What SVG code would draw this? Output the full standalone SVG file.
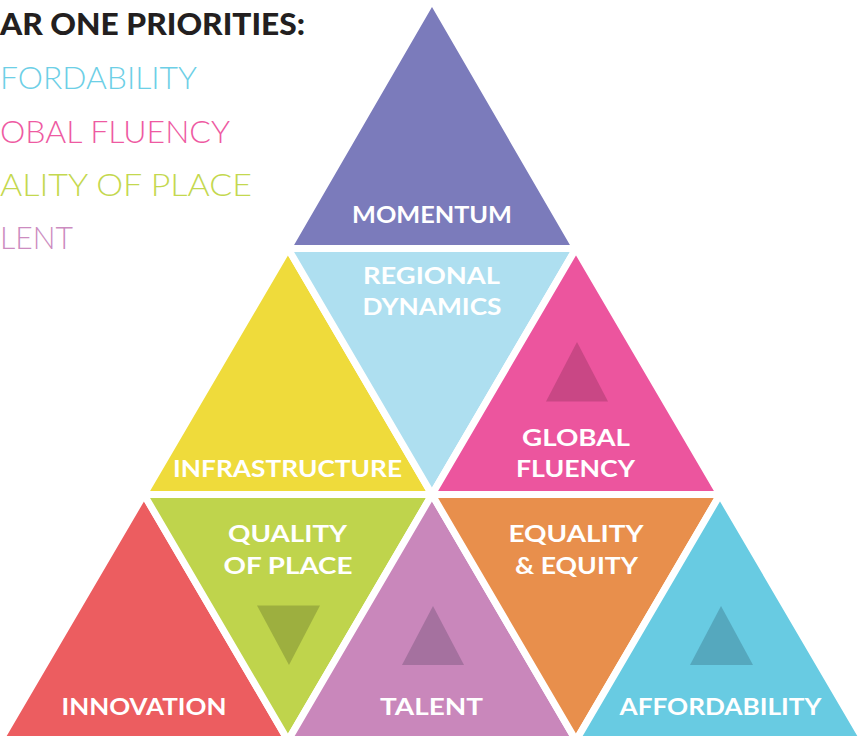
<svg xmlns="http://www.w3.org/2000/svg" width="859" height="736" viewBox="0 0 859 736">
<style>
.tri{stroke:#ffffff;stroke-width:7;stroke-linejoin:miter}
.lbl{font-family:Lato,"Open Sans","Liberation Sans",sans-serif;font-weight:700;font-size:23px;fill:#ffffff;text-anchor:middle}
.pri{font-family:Lato,"Open Sans","Liberation Sans",sans-serif;font-weight:300;font-size:31px}
.head{font-family:Lato,"Open Sans","Liberation Sans",sans-serif;font-weight:900;font-size:30px;fill:#231f20}
</style>
<rect width="859" height="736" fill="#ffffff"/>
<g id="priorities">
<text class="head" x="0" y="35" textLength="305" lengthAdjust="spacingAndGlyphs">AR ONE PRIORITIES:</text>
<text class="pri" x="0" y="89" fill="#6dcfe6" textLength="197" lengthAdjust="spacingAndGlyphs">FORDABILITY</text>
<text class="pri" x="0" y="143" fill="#ee5aa2" textLength="230" lengthAdjust="spacingAndGlyphs">OBAL FLUENCY</text>
<text class="pri" x="0" y="196" fill="#c4d84f" textLength="252" lengthAdjust="spacingAndGlyphs">ALITY OF PLACE</text>
<text class="pri" x="0" y="249" fill="#cc8cc0" textLength="73" lengthAdjust="spacingAndGlyphs">LENT</text>
</g>
<g id="connectors"></g>
<g id="momentum">
<polygon class="tri" fill="#7b7bbb" points="432,0 288,248.5 576,248.5"/>
<text class="lbl" x="432" y="223" textLength="160" lengthAdjust="spacingAndGlyphs">MOMENTUM</text>
</g>
<g id="infrastructure">
<polygon class="tri" fill="#efdb3b" points="288,248.5 144,494.5 432,494.5"/>
<text class="lbl" x="287.5" y="477" textLength="229" lengthAdjust="spacingAndGlyphs">INFRASTRUCTURE</text>
</g>
<g id="regional-dynamics">
<polygon class="tri" fill="#aedff0" points="288,248.5 576,248.5 432,494.5"/>
<text class="lbl" x="431.5" y="284" textLength="137" lengthAdjust="spacingAndGlyphs">REGIONAL</text>
<text class="lbl" x="432" y="315" textLength="139" lengthAdjust="spacingAndGlyphs">DYNAMICS</text>
</g>
<g id="global-fluency">
<polygon class="tri" fill="#ec559e" points="576,248.5 432,494.5 720,494.5"/>
<polygon fill="#c94785" points="577,342 546,401.5 608,401.5"/>
<text class="lbl" x="576" y="446" textLength="108" lengthAdjust="spacingAndGlyphs">GLOBAL</text>
<text class="lbl" x="575.5" y="477" textLength="119" lengthAdjust="spacingAndGlyphs">FLUENCY</text>
</g>
<g id="innovation">
<polygon class="tri" fill="#ec5d60" points="144,494.5 0,740.5 288,740.5"/>
<text class="lbl" x="144" y="715" textLength="165" lengthAdjust="spacingAndGlyphs">INNOVATION</text>
</g>
<g id="quality-of-place">
<polygon class="tri" fill="#bfd44c" points="144,494.5 432,494.5 288,740.5"/>
<polygon fill="#9daf3f" points="257,605.5 320,605.5 289,665"/>
<text class="lbl" x="287.5" y="542" textLength="119" lengthAdjust="spacingAndGlyphs">QUALITY</text>
<text class="lbl" x="288" y="574" textLength="129" lengthAdjust="spacingAndGlyphs">OF PLACE</text>
</g>
<g id="talent">
<polygon class="tri" fill="#c987bb" points="432,494.5 288,740.5 576,740.5"/>
<polygon fill="#a5719f" points="433,606 402,665 464,665"/>
<text class="lbl" x="431.5" y="715" textLength="103" lengthAdjust="spacingAndGlyphs">TALENT</text>
</g>
<g id="equality-equity">
<polygon class="tri" fill="#e88f4c" points="432,494.5 720,494.5 576,740.5"/>
<text class="lbl" x="576" y="542" textLength="135" lengthAdjust="spacingAndGlyphs">EQUALITY</text>
<text class="lbl" x="576.5" y="574" textLength="123" lengthAdjust="spacingAndGlyphs">&amp; EQUITY</text>
</g>
<g id="affordability">
<polygon class="tri" fill="#68cbe2" points="720,494.5 576,740.5 864,740.5"/>
<polygon fill="#55a8be" points="721,606 690,665 753,665"/>
<text class="lbl" x="720.5" y="715" textLength="202" lengthAdjust="spacingAndGlyphs">AFFORDABILITY</text>
</g>
</svg>
